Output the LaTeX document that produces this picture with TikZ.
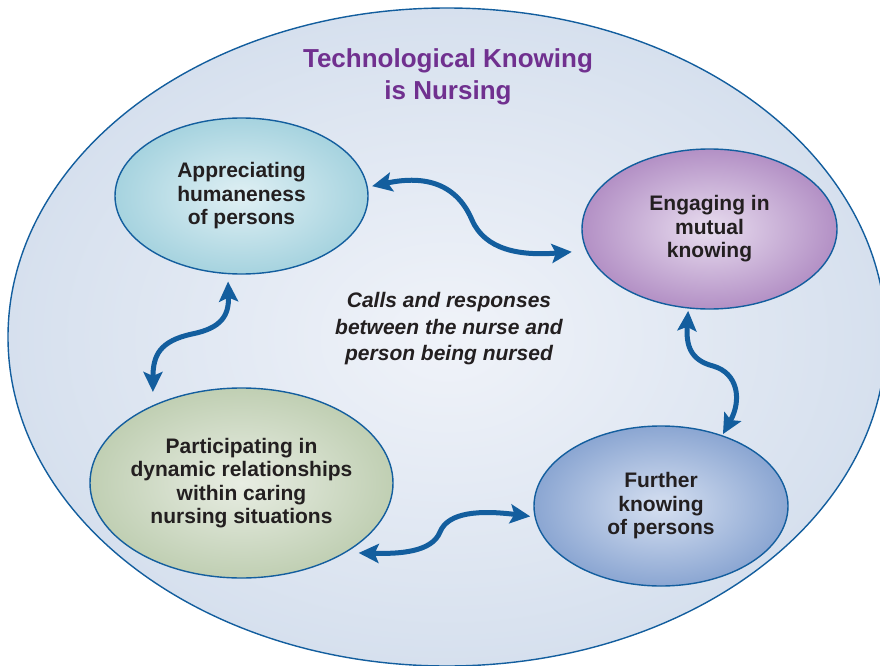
\documentclass[tikz,border=0pt]{standalone}
\usepackage{fontspec}
\setmainfont{Liberation Sans}
\usepackage{xcolor}
\usepackage{tikz}
\usetikzlibrary{arrows.meta,shapes.geometric}

\definecolor{edgeblue}{HTML}{135E9E}
\definecolor{ink}{HTML}{231F20}
\definecolor{titlepurple}{HTML}{70308F}
\definecolor{frameout}{HTML}{D6E0EE}
\definecolor{framein}{HTML}{F0F3F9}
\definecolor{cyanout}{HTML}{A6D3DF}
\definecolor{cyanin}{HTML}{E0F0F4}
\definecolor{violetout}{HTML}{B390C5}
\definecolor{violetin}{HTML}{E8DDEF}
\definecolor{sageout}{HTML}{C0CFB3}
\definecolor{sagein}{HTML}{E8EDE3}
\definecolor{steelout}{HTML}{8BA6D2}
\definecolor{steelin}{HTML}{D6E0F1}

\begin{document}
\begin{tikzpicture}[
    x=1pt, y=-1pt,
    frame/.style={ellipse, draw=edgeblue, line width=1.4pt, minimum width=878pt, minimum height=658pt, inner color=framein, outer color=frameout},
    bubble/.style={ellipse, draw=edgeblue, line width=1.4pt, inner xsep=-8pt, inner ysep=0pt, outer sep=0pt, align=center, text=ink, font=\bfseries\fontsize{21}{23.5}\selectfont},
    title/.style={align=center, text=titlepurple, font=\bfseries\fontsize{26}{32}\selectfont},
    note/.style={align=center, text=ink, font=\bfseries\itshape\fontsize{21}{26.5}\selectfont},
    link/.style={{Stealth[length=20pt,width=19pt,inset=4pt]}-{Stealth[length=20pt,width=19pt,inset=4pt]}, line width=5pt, draw=edgeblue}
]
\useasboundingbox (0,0) rectangle (880,666);
\node[frame] (frame) at (447,337) {};
\node[title] (title) at (448,77) {Technological Knowing\\is Nursing};
\node[note] (calls) at (449,329) {Calls and responses\\between the nurse and\\person being nursed};
\node[bubble, minimum width=253pt, minimum height=156pt, inner color=cyanin, outer color=cyanout] (humane) at (241.5,196) {Appreciating\\humaneness\\of persons};
\node[bubble, minimum width=255pt, minimum height=160pt, inner color=violetin, outer color=violetout] (mutual) at (709.5,229) {Engaging in\\mutual\\knowing};
\node[bubble, minimum width=303pt, minimum height=190pt, inner color=sagein, outer color=sageout] (dynamic) at (241.5,483) {Participating in\\dynamic relationships\\within caring\\nursing situations};
\node[bubble, minimum width=254pt, minimum height=160pt, inner color=steelin, outer color=steelout] (further) at (661,506) {Further\\knowing\\of persons};
\draw[link, shorten <=5pt, shorten >=15pt] (humane.4) .. controls (420,176) and (455,180) .. (472,220) .. controls (485,250) and (520,256) .. (mutual.190);
\draw[link, shorten <=8pt, shorten >=14pt] (humane.260) .. controls (229,315) and (222,328) .. (192,334) .. controls (160,341) and (153,355) .. (dynamic.139);
\draw[link, shorten <=14pt, shorten >=5pt] (dynamic.-34) .. controls (400,554) and (432,552) .. (440,532) .. controls (448,512) and (480,510) .. (further.185);
\draw[link, shorten <=3pt, shorten >=2pt] (mutual.255) .. controls (686,345) and (690,360) .. (713,366) .. controls (738,373) and (742,400) .. (further.49);
\end{tikzpicture}
\end{document}
